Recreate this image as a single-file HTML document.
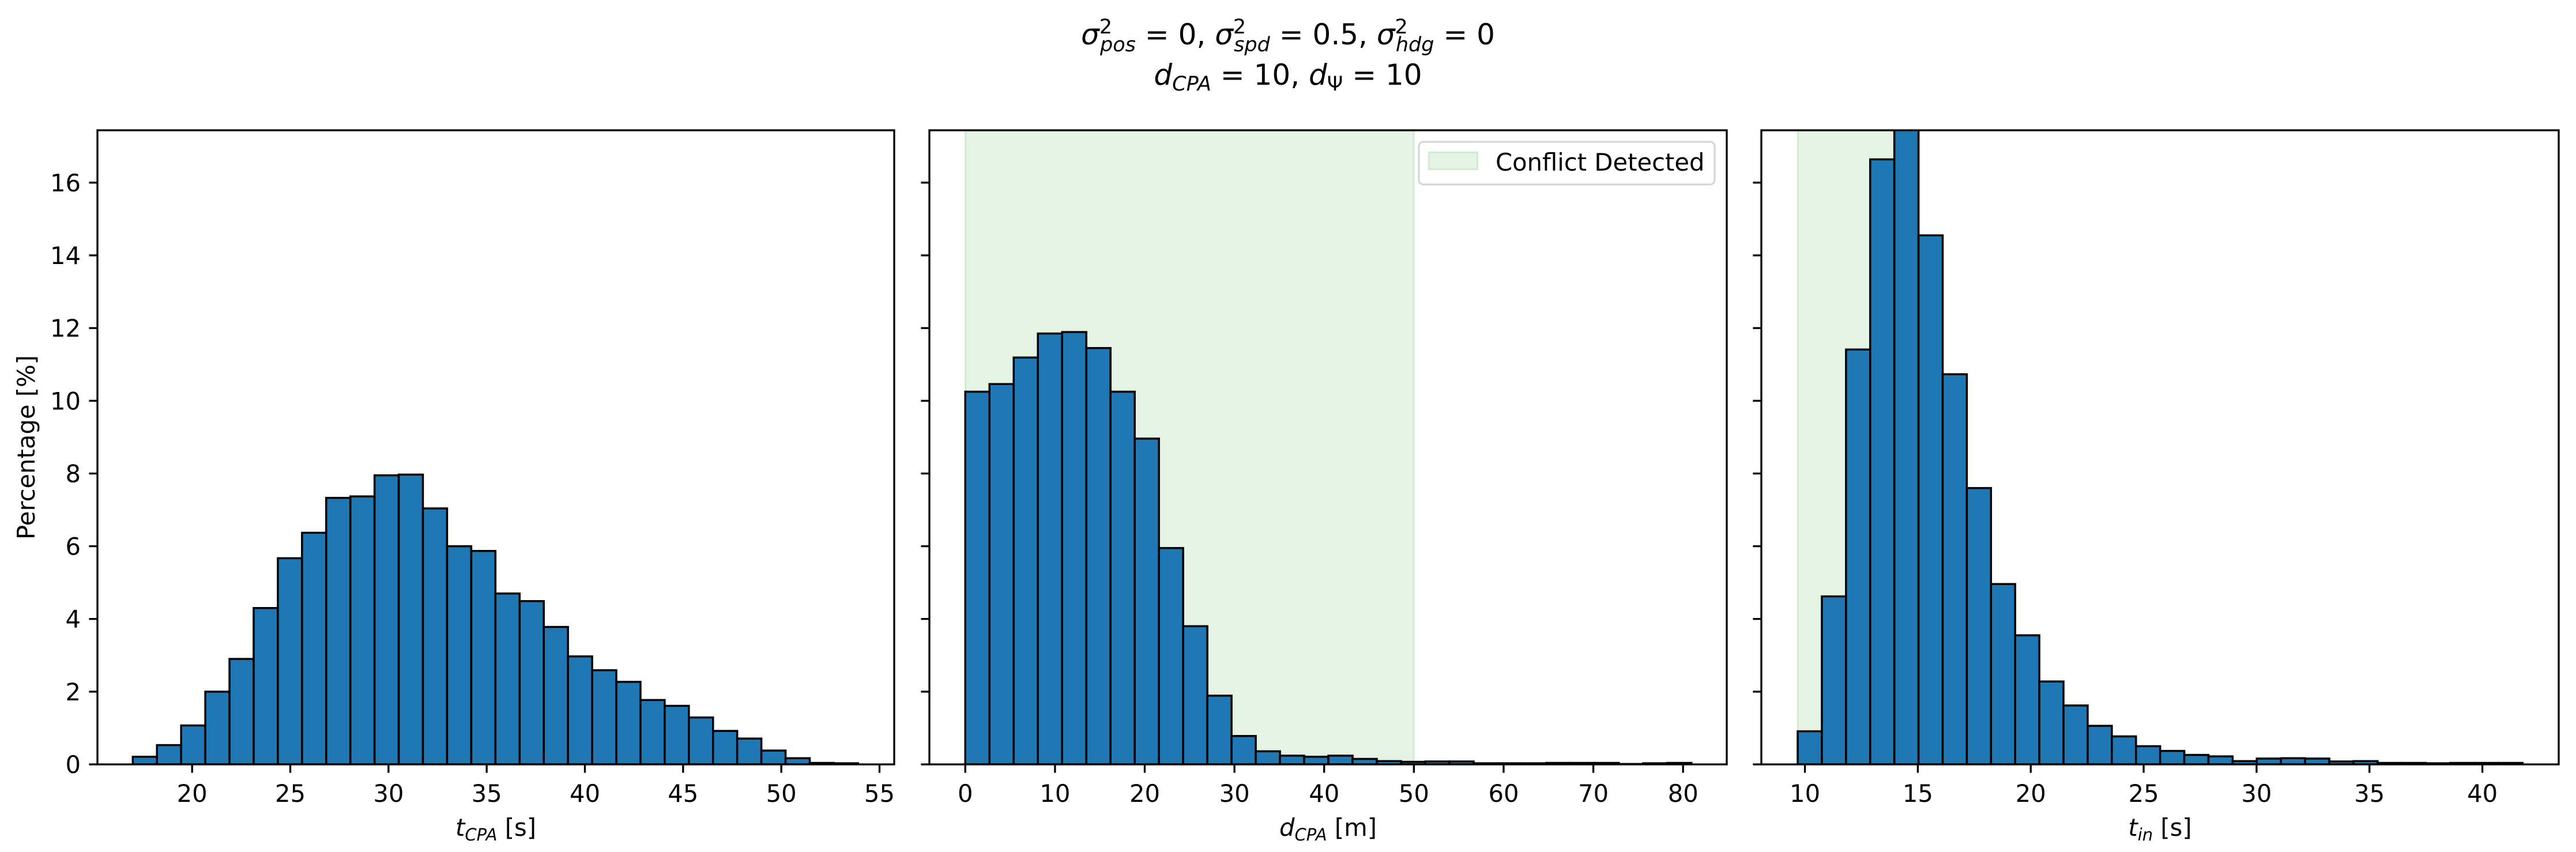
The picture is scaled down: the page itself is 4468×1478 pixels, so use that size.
<!DOCTYPE html>
<html><head><meta charset="utf-8">
<style>
html,body{margin:0;padding:0;background:#fff;}
svg{display:block;font-family:"DejaVu Sans","Liberation Sans",sans-serif;}
</style></head>
<body>
<svg id="fig" width="4468" height="1478" viewBox="0 0 4468 1478" xmlns="http://www.w3.org/2000/svg">
<rect width="4468" height="1478" fill="#fff"/>
<text x="2234" y="77" font-size="50" text-anchor="middle"><tspan font-style="italic">σ</tspan><tspan font-size="35" dy="-19">2</tspan><tspan font-size="35" font-style="italic" dx="-21" dy="31">pos</tspan><tspan dy="-12"> = 0, </tspan><tspan font-style="italic">σ</tspan><tspan font-size="35" dy="-19">2</tspan><tspan font-size="35" font-style="italic" dx="-21" dy="31">spd</tspan><tspan dy="-12"> = 0.5, </tspan><tspan font-style="italic">σ</tspan><tspan font-size="35" dy="-19">2</tspan><tspan font-size="35" font-style="italic" dx="-21" dy="31">hdg</tspan><tspan dy="-12"> = 0</tspan></text>
<text x="2234" y="147" font-size="50" text-anchor="middle"><tspan font-style="italic">d</tspan><tspan font-size="35" font-style="italic" dy="10">CPA</tspan><tspan dy="-10"> = 10, </tspan><tspan font-style="italic">d</tspan><tspan font-size="35" dy="10">Ψ</tspan><tspan dy="-10"> = 10</tspan></text>
<g id="plots"></g>
</svg>
<script>
// Panel 1: t_CPA
const binStart1 = 16.98, binWidth1 = 1.231;
const values1 = [0.21,0.53,1.07,2.0,2.9,4.3,5.67,6.37,7.33,7.37,7.95,7.97,7.04,6.0,5.87,4.7,4.49,3.78,2.97,2.59,2.27,1.77,1.61,1.29,0.92,0.71,0.38,0.17,0.04,0.03];
const ticks1 = [20,25,30,35,40,45,50,55];
// Panel 2: d_CPA
const binStart2 = 0, binWidth2 = 2.698;
const values2 = [10.25,10.46,11.19,11.85,11.89,11.45,10.25,8.96,5.95,3.80,1.89,0.78,0.36,0.24,0.21,0.24,0.15,0.09,0.07,0.08,0.08,0.03,0.03,0.03,0.04,0.04,0.04,0.01,0.03,0.04];
const ticks2 = [0,10,20,30,40,50,60,70,80];
const span2 = [0,50];
// Panel 3: t_in
const binStart3 = 9.68, binWidth3 = 1.07;
const values3 = [0.91,4.62,11.41,16.64,17.6,14.55,10.73,7.6,4.96,3.55,2.28,1.62,1.06,0.77,0.50,0.37,0.26,0.22,0.09,0.16,0.17,0.16,0.08,0.09,0.04,0.04,0.03,0.04,0.04,0.04];
const ticks3 = [10,15,20,25,30,35,40];
const span3 = [9.68,14.0];
const yTicks = [0,2,4,6,8,10,12,14,16];

const NS = "http://www.w3.org/2000/svg";
const root = document.getElementById('plots');
function mk(tag, attrs, parent){const e=document.createElementNS(NS,tag);for(const k in attrs)e.setAttribute(k,attrs[k]);(parent||root).appendChild(e);return e;}

const FS = 41.7;
const axTop = 226, axBot = 1326, yMax = 17.44;
const panels = [
 {left:169,right:1551,xmin:15.18,xmax:55.75,start:binStart1,w:binWidth1,vals:values1,ticks:ticks1,span:null,label:"t",sub:"CPA",unit:" [s]",id:"tcpa"},
 {left:1612,right:2995,xmin:-4.0,xmax:84.87,start:binStart2,w:binWidth2,vals:values2,ticks:ticks2,span:span2,label:"d",sub:"CPA",unit:" [m]",id:"dcpa"},
 {left:3055,right:4438,xmin:8.07,xmax:43.38,start:binStart3,w:binWidth3,vals:values3,ticks:ticks3,span:span3,label:"t",sub:"in",unit:" [s]",id:"tin"}
];
const Y = v => axBot - (v / yMax) * (axBot - axTop);

panels.forEach((p, pi) => {
  const X = v => p.left + (v - p.xmin) / (p.xmax - p.xmin) * (p.right - p.left);
  const g = mk('g', {});
  
  
  const clipId = 'clip' + pi;
  const cp = mk('clipPath', {id: clipId}, g);
  mk('rect', {x: p.left, y: axTop, width: p.right - p.left, height: axBot - axTop}, cp);
  if (p.span) {
    const s = mk('rect', {x: X(p.span[0]), y: axTop, width: X(p.span[1]) - X(p.span[0]), height: axBot - axTop, fill: '#2ca02c', 'fill-opacity': 0.12, stroke: '#2ca02c', 'stroke-opacity': 0.15, 'stroke-width': 3, 'clip-path': 'url(#' + clipId + ')'}, g);
    
    
  }
  const bars = mk('g', {'clip-path': 'url(#' + clipId + ')'}, g);
  p.vals.forEach((v, i) => {
    const x0 = X(p.start + i * p.w), x1 = X(p.start + (i + 1) * p.w);
    const r = mk('rect', {x: x0, y: Y(v), width: x1 - x0, height: axBot - Y(v), fill: '#1f77b4', stroke: '#000', 'stroke-width': 3.5}, bars);
    
    
  });
  const frame = mk('rect', {x: p.left, y: axTop, width: p.right - p.left, height: axBot - axTop, fill: 'none', stroke: '#000', 'stroke-width': 3.3}, g);
  
  
  p.ticks.forEach(t => {
    mk('line', {x1: X(t), x2: X(t), y1: axBot, y2: axBot + 14.6, stroke: '#000', 'stroke-width': 3.3}, g);
    const tl = mk('text', {x: X(t), y: 1391, 'font-size': FS, 'text-anchor': 'middle'}, g);
    tl.textContent = t;
    
    
  });
  yTicks.forEach(t => {
    mk('line', {x1: p.left - 14.6, x2: p.left, y1: Y(t), y2: Y(t), stroke: '#000', 'stroke-width': 3.3}, g);
    if (pi === 0) {
      const yl = mk('text', {x: 140, y: Y(t) + 15, 'font-size': FS, 'text-anchor': 'end'}, g);
      yl.textContent = t;
      
      
    }
  });
  const xl = mk('text', {x: (p.left + p.right) / 2, y: 1450, 'font-size': FS, 'text-anchor': 'middle'}, g);
  
  
  const a = mk('tspan', {'font-style': 'italic'}, xl); a.textContent = p.label;
  const b = mk('tspan', {'font-style': 'italic', 'font-size': 29, dy: 8}, xl); b.textContent = p.sub;
  const c = mk('tspan', {dy: -8}, xl); c.textContent = p.unit;
});

const yt = mk('text', {x: 60, y: 776, 'font-size': FS, 'text-anchor': 'middle', transform: 'rotate(-90 60 776)'});
yt.textContent = 'Percentage [%]';



const lg = mk('g', {});


mk('rect', {x: 2461, y: 246, width: 513, height: 74, rx: 8, fill: '#fff', 'fill-opacity': 0.8, stroke: '#d6d6d6', 'stroke-width': 3.2}, lg);
const lp = mk('rect', {x: 2478, y: 264, width: 85, height: 30, fill: '#2ca02c', 'fill-opacity': 0.12, stroke: '#2ca02c', 'stroke-opacity': 0.15, 'stroke-width': 3}, lg);


const lt = mk('text', {x: 2594, y: 296, 'font-size': FS}, lg);
lt.textContent = 'Conflict Detected';


</script>
</body></html>
